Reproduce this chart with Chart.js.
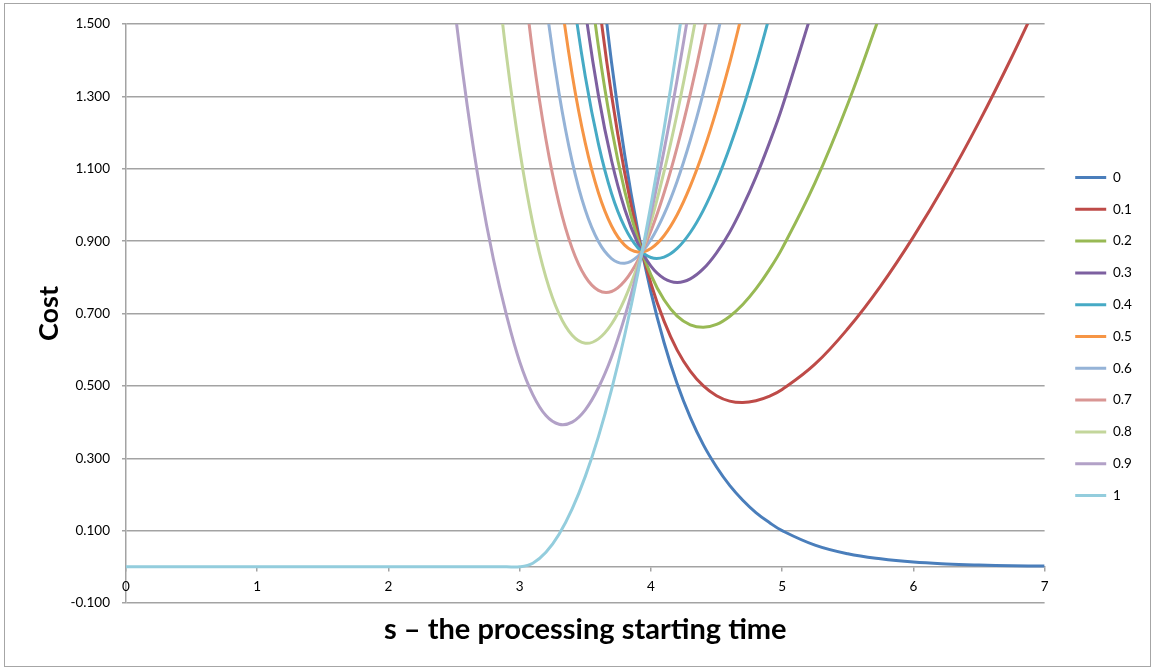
<!DOCTYPE html>
<html>
<head>
<meta charset="utf-8">
<title>Cost vs processing starting time</title>
<script src="https://cdn.jsdelivr.net/npm/chart.js@4.4.1/dist/chart.umd.min.js"></script>
<style>
  body { margin: 0; background: #fff; }
  #frame { position: absolute; left: 4px; top: 3px; width: 1145px; height: 662px; border: 1px solid #a6a6a6; }
  canvas { display: block; }
</style>
</head>
<body>
<div id="frame"><canvas id="costChart" width="1145" height="662"></canvas></div>
<script>
const _ = null;

// Processing starting times (x) shared by every series
const startTimes = [0, 2.4, 2.5, 2.6, 2.7, 2.8, 2.9, 3.0, 3.1, 3.2, 3.3, 3.4, 3.5, 3.6, 3.7, 3.8, 3.9,
    4.0, 4.1, 4.2, 4.3, 4.4, 4.5, 4.6, 4.7, 4.8, 4.9, 5.0, 5.25, 5.5, 5.75, 6.0, 6.25, 6.5, 6.75, 7.0];

// Cost values, one array per series (null = not drawn)
const cost00 = [_, _, _, _, _, _, _, _, _, _, _, _, _, 1.708, 1.394, 1.139, 0.930,
    0.759, 0.620, 0.506, 0.413, 0.337, 0.276, 0.225, 0.184, 0.150, 0.123, 0.100, 0.060, 0.036, 0.022, 0.013, 0.008, 0.005, 0.003, 0.002];
const cost01 = [_, _, _, _, _, _, _, _, _, _, _, _, 1.907, 1.573, 1.304, 1.089, 0.918,
    0.783, 0.679, 0.599, 0.541, 0.500, 0.473, 0.458, 0.454, 0.459, 0.471, 0.490, 0.560, 0.658, 0.776, 0.912, 1.063, 1.229, 1.409, 1.602];
const cost02 = [_, _, _, _, _, _, _, _, _, _, _, _, 1.723, 1.438, 1.213, 1.039, 0.906,
    0.807, 0.738, 0.693, 0.669, 0.662, 0.670, 0.692, 0.725, 0.768, 0.820, 0.880, 1.061, 1.279, 1.530, _, _, _, _, _];
const cost03 = [_, _, _, _, _, _, _, _, _, _, _, 1.841, 1.539, 1.303, 1.123, 0.989, 0.894,
    0.831, 0.797, 0.786, 0.796, 0.824, 0.868, 0.925, 0.996, 1.077, 1.169, 1.270, 1.561, _, _, _, _, _, _, _];
const cost04 = [_, _, _, _, _, _, _, _, _, _, 1.918, 1.601, 1.355, 1.169, 1.032, 0.939, 0.882,
    0.855, 0.856, 0.880, 0.924, 0.986, 1.065, 1.159, 1.266, 1.386, 1.518, 1.660, _, _, _, _, _, _, _, _];
const cost05 = [_, _, _, _, _, _, _, _, _, 1.941, 1.614, 1.361, 1.171, 1.034, 0.942, 0.889, 0.870,
    0.880, 0.915, 0.973, 1.052, 1.149, 1.263, 1.392, 1.537, _, _, _, _, _, _, _, _, _, _, _];
const cost06 = [_, _, _, _, _, _, _, _, 1.888, 1.561, 1.309, 1.120, 0.986, 0.899, 0.852, 0.839, 0.858,
    0.904, 0.974, 1.066, 1.179, 1.311, 1.460, 1.626, _, _, _, _, _, _, _, _, _, _, _, _];
const cost07 = [_, _, _, _, _, _, _, 1.729, 1.419, 1.181, 1.004, 0.880, 0.802, 0.764, 0.761, 0.790, 0.846,
    0.928, 1.033, 1.160, 1.307, 1.473, 1.658, _, _, _, _, _, _, _, _, _, _, _, _, _];
const cost08 = [_, _, _, _, _, 1.729, 1.411, 1.152, 0.949, 0.800, 0.699, 0.640, 0.618, 0.630, 0.671, 0.740, 0.834,
    0.952, 1.092, 1.253, 1.435, 1.635, _, _, _, _, _, _, _, _, _, _, _, _, _, _];
const cost09 = [_, 1.905, 1.560, 1.275, 1.040, 0.850, 0.695, 0.567, 0.476, 0.418, 0.394, 0.400, 0.434, 0.495, 0.580, 0.690, 0.822,
    0.976, 1.151, 1.347, 1.562, _, _, _, _, _, _, _, _, _, _, _, _, _, _, _];
const cost10 = [0, 0, 0, 0, 0, 0, 0, 0, 0.01, 0.04, 0.09, 0.16, 0.25, 0.36, 0.49, 0.64, 0.81,
    1.00, 1.21, 1.44, 1.69, _, _, _, _, _, _, _, _, _, _, _, _, _, _, _];

const seriesLabels = ['0', '0.1', '0.2', '0.3', '0.4', '0.5', '0.6', '0.7', '0.8', '0.9', '1'];
const seriesColors = ['#4a7ebb', '#be4b48', '#98b954', '#7d60a0', '#46aac5', '#f69545',
    '#95b3d7', '#d99694', '#c3d69b', '#b2a1c7', '#93cddd'];
const costTicks = [-0.1, 0.1, 0.3, 0.5, 0.7, 0.9, 1.1, 1.3, 1.5];

const gridColor = '#a3a3a3';
const costSeries = [cost00, cost01, cost02, cost03, cost04, cost05, cost06, cost07, cost08, cost09, cost10];

Chart.defaults.font.family = 'Lato';
Chart.defaults.color = '#000';

// Build one line per weight; later series are drawn on top, like the original
const datasets = seriesLabels.map((label, i) => ({
    label: label,
    data: startTimes
        .map((s, j) => ({ x: s, y: costSeries[i][j] }))
        .filter(p => p.y !== null),
    borderColor: seriesColors[i],
    backgroundColor: seriesColors[i],
    borderWidth: 3,
    pointRadius: 0,
    tension: 0.4,
    order: seriesLabels.length - i
}));

new Chart(document.getElementById('costChart'), {
    type: 'line',
    data: { datasets: datasets },
    options: {
        responsive: false,
        animation: false,
        layout: { padding: { left: 28.4, right: 8.2, top: 20, bottom: 17 } },
        scales: {
            y: {
                position: 'left',
                min: -0.1,
                max: 1.5,
                afterBuildTicks: scale => {
                    scale.ticks = costTicks.map(v => ({ value: v }));
                },
                ticks: {
                    padding: 12,
                    font: { size: 13.5 },
                    callback: value => value.toFixed(3)
                },
                grid: { color: gridColor, lineWidth: 1.5, tickLength: 4 },
                border: { color: gridColor, width: 1.5 },
                title: {
                    display: true,
                    text: 'Cost',
                    font: { size: 27, weight: 'bold' },
                    padding: 0
                },
                afterFit: scale => { scale.width = 92.6; }
            },
            x: {
                type: 'linear',
                position: { y: 0 },
                min: 0,
                max: 7,
                ticks: { stepSize: 1, padding: 8, maxRotation: 0, font: { size: 13.5 } },
                grid: { drawOnChartArea: false, drawTicks: true, tickLength: 4, color: gridColor, lineWidth: 1.5 },
                border: { color: gridColor, width: 1.5 },
                afterFit: scale => { scale.height = 0; }
            },
            // empty axis that only keeps a gap between the plot and the legend
            yr: {
                position: 'right',
                ticks: { display: false },
                grid: { display: false },
                border: { display: false },
                afterFit: scale => { scale.width = 12.3; }
            }
        },
        plugins: {
            legend: {
                position: 'right',
                reverse: true,
                labels: { boxWidth: 31, boxHeight: 0, padding: 18.3, font: { size: 13.5 }, color: '#000' }
            },
            title: {
                display: true,
                position: 'bottom',
                fullSize: false,
                text: 's \u2013 the processing starting time',
                font: { size: 29, weight: 'bold' },
                padding: { top: 9.6, bottom: 1.6 },
                color: '#000'
            },
            tooltip: { enabled: false }
        }
    }
});
</script>
</body>
</html>
